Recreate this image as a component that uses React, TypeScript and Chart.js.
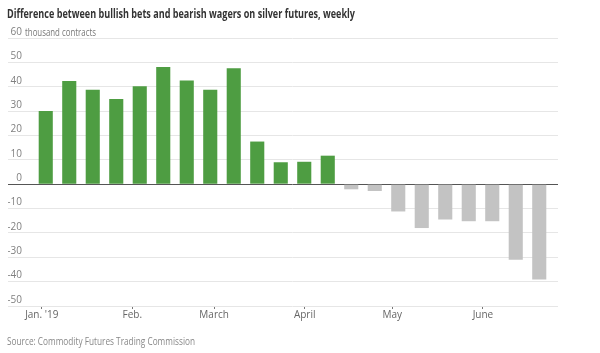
import React, { useEffect, useRef } from "react";
import { Chart, registerables } from "chart.js";

Chart.register(...registerables);

const TITLE = "Difference between bullish bets and bearish wagers on silver futures, weekly";
const SOURCE = "Source: Commodity Futures Trading Commission";
const UNIT = "thousand contracts";

// Weekly report dates (Tuesdays)
const weeks = [
  "Jan 1", "Jan 8", "Jan 15", "Jan 22", "Jan 29",
  "Feb 5", "Feb 12", "Feb 19", "Feb 26",
  "Mar 5", "Mar 12", "Mar 19", "Mar 26",
  "Apr 2", "Apr 9", "Apr 16", "Apr 23", "Apr 30",
  "May 7", "May 14", "May 21", "May 28",
];
// Net positions, thousand contracts
const netPositions = [
  30, 42.3, 38.8, 35, 40.2, 48.1, 42.6, 38.8, 47.6,
  17.5, 9, 9.2, 11.7,
  -2.1, -2.8, -11.2, -18, -14.5, -15.2, -15.2, -31, -39.1,
];
// Month tick labels and their day-of-year positions
const monthLabels = ["Jan. '19", "Feb.", "March", "April", "May", "June"];
const monthDays = [0, 31, 59, 90, 120, 151];
const yTicks = [-50, -40, -30, -20, -10, 0, 10, 20, 30, 40, 50, 60];

const GREEN = "#4e9d42";
const GREY = "#c3c3c3";
const GRID = "#e6e6e6";
const ZERO = "#555555";

function drawScaled(ctx: CanvasRenderingContext2D, text: string, x: number, y: number, font: string, color: string, sx: number) {
  ctx.save();
  ctx.font = font;
  ctx.fillStyle = color;
  ctx.textBaseline = "middle";
  ctx.textAlign = "left";
  ctx.translate(x, y);
  ctx.scale(sx, 1);
  ctx.fillText(text, 0, 0);
  ctx.restore();
}

const textPlugin = {
  id: "wsjText",
  afterDraw(chart: any) {
    const ctx = chart.ctx as CanvasRenderingContext2D;
    const family = "'Open Sans', 'Noto Sans', sans-serif";
    ctx.save();
    ctx.font = `bold 13px ${family}`;
    const tw = ctx.measureText(TITLE).width;
    ctx.restore();
    drawScaled(ctx, TITLE, 7, 14, `bold 13px ${family}`, "#333333", 348 / tw);
    ctx.save();
    ctx.font = `11px ${family}`;
    const sw = ctx.measureText(SOURCE).width;
    ctx.restore();
    drawScaled(ctx, SOURCE, 7, 342, `11px ${family}`, "#888888", 188 / sw);
    const y = chart.scales.y;
    const py = y.getPixelForValue(60) - 5;
    ctx.save();
    ctx.font = `10px ${family}`;
    const uw = ctx.measureText(UNIT).width;
    ctx.restore();
    drawScaled(ctx, UNIT, 25, py, `10px ${family}`, "#777777", 71 / uw);
  },
};

export default function App() {
  const ref = useRef<HTMLCanvasElement | null>(null);
  useEffect(() => {
    if (!ref.current) return;
    const family = "'Open Sans', 'Noto Sans', sans-serif";
    const gridColor = (c: any) => (c.tick && c.tick.value === 0 ? ZERO : GRID);
    const chart = new Chart(ref.current, {
      type: "bar",
      data: {
        labels: weeks,
        datasets: [
          {
            data: netPositions,
            backgroundColor: netPositions.map((v) => (v >= 0 ? GREEN : GREY)),
            barPercentage: 0.6,
            categoryPercentage: 1,
            xAxisID: "x",
            yAxisID: "y",
          },
        ],
      },
      options: {
        animation: false,
        responsive: false,
        maintainAspectRatio: false,
        layout: { padding: { left: 8, right: 42, top: 38, bottom: 27 } },
        plugins: { legend: { display: false }, tooltip: { enabled: false }, title: { display: false } },
        scales: {
          x: { type: "category", display: false, offset: true },
          x2: {
            type: "linear",
            position: "bottom",
            offset: false,
            min: -2.65,
            max: 174.3,
            afterBuildTicks: (s: any) => {
              s.ticks = monthDays.map((v) => ({ value: v }));
            },
            afterFit: (s: any) => {
              s.height = 20;
            },
            border: { display: false },
            grid: { offset: false, drawOnChartArea: false, drawTicks: true, tickLength: 3, tickColor: "#777777" },
            ticks: {
              autoSkip: false,
              maxRotation: 0,
              padding: 0,
              color: "#666666",
              font: { family, size: 10 },
              callback: (v: any) => {
                const i = monthDays.indexOf(Number(v));
                return i >= 0 ? monthLabels[i] : "";
              },
            },
          },
          y: {
            type: "linear",
            position: "left",
            min: -50,
            max: 60,
            afterBuildTicks: (s: any) => {
              s.ticks = yTicks.map((v) => ({ value: v }));
            },
            afterFit: (s: any) => {
              s.width = 26;
            },
            border: { display: false },
            grid: { color: gridColor, lineWidth: 1, drawTicks: true, tickLength: 26, tickColor: gridColor as any },
            ticks: {
              crossAlign: "near",
              padding: -14,
              labelOffset: -6,
              color: "#808080",
              font: { family, size: 10 },
              callback: (v: any) => String(v),
            },
          },
          y2: {
            type: "linear",
            position: "right",
            min: -50,
            max: 60,
            afterBuildTicks: (s: any) => {
              s.ticks = yTicks.map((v) => ({ value: v }));
            },
            afterFit: (s: any) => {
              s.width = 7;
            },
            border: { display: false },
            grid: { drawOnChartArea: false, drawTicks: true, tickLength: 7, tickColor: gridColor as any },
            ticks: { display: false },
          },
        },
      } as any,
      plugins: [textPlugin],
    });
    return () => chart.destroy();
  }, []);
  return (
    <div style={{ position: "fixed", left: 0, top: 0, width: 600, height: 353, background: "#fff" }}>
      <canvas ref={ref} width={600} height={353} style={{ width: 600, height: 353, display: "block" }} />
    </div>
  );
}
